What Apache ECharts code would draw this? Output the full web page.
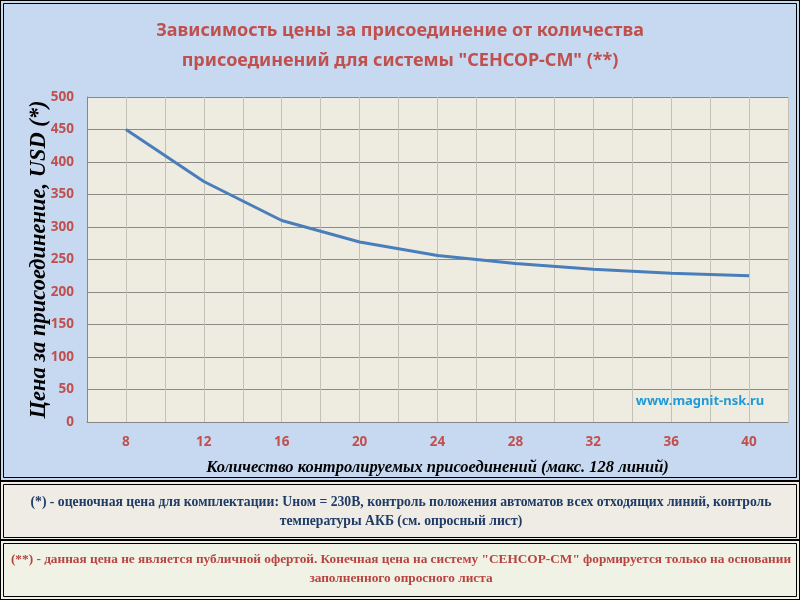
<!DOCTYPE html>
<html><head><meta charset="utf-8">
<script src="https://cdn.jsdelivr.net/npm/echarts@6/dist/echarts.min.js"></script>
<style>html,body{margin:0;padding:0;background:#fff}#c{width:800px;height:600px}</style>
</head><body><div id="c"></div>
<script>
const connections = [8, 12, 16, 20, 24, 28, 32, 36, 40];
const prices = [450, 370, 310, 277, 256, 244, 235, 229, 225];
const titleText = 'Зависимость цены за присоединение от количества\nприсоединений для системы "СЕНСОР-СМ" (**)';
const yName = 'Цена за присоединение, USD (*)';
const xName = 'Количество контролируемых присоединений (макс. 128 линий)';
const note1 = ['(*) - оценочная цена для комплектации: Uном = 230В, контроль положения автоматов всех отходящих линий, контроль', 'температуры АКБ (см. опросный лист)'];
const note2 = ['(**) - данная цена не является публичной офертой. Конечная цена на систему "СЕНСОР-СМ" формируется только на основании', 'заполненного опросного листа'];
const site = 'www.magnit-nsk.ru';

const chart = echarts.init(document.getElementById('c'), null, {renderer: 'canvas'});
const red = '#c0504d';
const serif = '"Liberation Serif", "DejaVu Serif", serif';
const sans = '"Noto Sans", "DejaVu Sans", sans-serif';

function frame(y, h, fill) {
  return [
    {type: 'rect', z: -10, shape: {x: 0, y: y, width: 800, height: h}, style: {fill: fill, stroke: '#000', lineWidth: 2}},
    {type: 'rect', z: -9, shape: {x: 3.5, y: y + 3.5, width: 793, height: h - 7}, style: {fill: 'none', stroke: '#000', lineWidth: 1}}
  ];
}

const option = {
  backgroundColor: '#fff',
  animation: false,
  title: {
    text: titleText, left: 'center', top: 11,
    textStyle: {color: red, fontFamily: sans, fontWeight: 'bold', fontSize: 18, lineHeight: 30}
  },
  grid: {left: 87, right: 12, top: 97, bottom: 178},
  xAxis: {
    type: 'value', min: 6, max: 42, interval: 2,
    name: xName, nameLocation: 'middle', nameGap: 37, nameMoveOverlap: false,
    nameTextStyle: {color: '#000', fontFamily: serif, fontStyle: 'italic', fontWeight: 'bold', fontSize: 16.5},
    axisLine: {lineStyle: {color: '#868686', width: 1}},
    axisTick: {show: false},
    axisLabel: {margin: 13, color: red, fontFamily: sans, fontWeight: 'bold', fontSize: 13.5,
      formatter: v => (v % 4 === 0 && v >= 8 && v <= 40) ? String(v) : ''},
    splitLine: {show: true, lineStyle: {color: '#c4c1b8', width: 1}}
  },
  yAxis: {
    type: 'value', min: 0, max: 500, interval: 50,
    name: yName, nameLocation: 'middle', nameGap: 36, nameRotate: 90, nameMoveOverlap: false,
    nameTextStyle: {color: '#000', fontFamily: serif, fontStyle: 'italic', fontWeight: 'bold', fontSize: 22.5},
    axisLine: {show: true, lineStyle: {color: '#868686', width: 1}},
    axisTick: {show: false},
    axisLabel: {margin: 13, color: red, fontFamily: sans, fontWeight: 'bold', fontSize: 13.5},
    splitLine: {show: true, lineStyle: {color: '#8c8a84', width: 1}},
    splitArea: {show: false}
  },
  series: [{
    type: 'line', data: connections.map((c, i) => [c, prices[i]]),
    symbol: 'none', lineStyle: {color: '#4a7ebb', width: 3}, z: 5
  }],
  graphic: [
    ...frame(0, 481, '#c6d9f1'),
    {type: 'rect', z: -8, shape: {x: 87, y: 97, width: 701, height: 325}, style: {fill: '#eeece1'}},
    ...frame(481, 60, '#eeece4'),
    ...frame(540, 60, '#f0f2e6'),
    {type: 'text', z: 10, x: 700, y: 401, style: {text: site, fill: '#1e9ad6', font: 'bold 13px ' + sans, textAlign: 'center', textVerticalAlign: 'middle'}},
    {type: 'text', z: 10, x: 401, y: 502, style: {text: note1[0], fill: '#1f3b66', font: 'bold 13.7px ' + serif, textAlign: 'center', textVerticalAlign: 'middle'}},
    {type: 'text', z: 10, x: 401, y: 521, style: {text: note1[1], fill: '#1f3b66', font: 'bold 13.7px ' + serif, textAlign: 'center', textVerticalAlign: 'middle'}},
    {type: 'text', z: 10, x: 401, y: 560, style: {text: note2[0], fill: '#b8433f', font: 'bold 13.3px ' + serif, textAlign: 'center', textVerticalAlign: 'middle'}},
    {type: 'text', z: 10, x: 401, y: 579, style: {text: note2[1], fill: '#b8433f', font: 'bold 13.3px ' + serif, textAlign: 'center', textVerticalAlign: 'middle'}}
  ]
};
chart.setOption(option);
</script></body></html>
